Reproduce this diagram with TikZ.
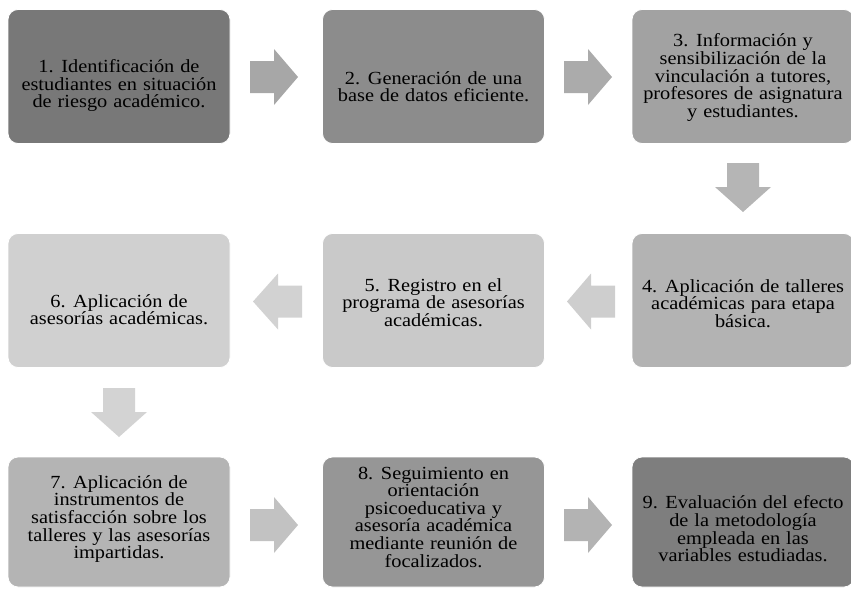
\documentclass[tikz,border=0pt]{standalone}
\usepackage{fontspec}
\setmainfont{Liberation Serif}[FakeStretch=1.1]
\newcommand{\boxfont}{\fontsize{18.5}{17.6}\selectfont\spaceskip=0.32em plus 0.1em\relax}
\begin{document}
\begin{tikzpicture}[x=1pt,y=-1pt,
  stepbox/.style={draw=white, line width=0.8pt, rounded corners=10pt,
    minimum width=222pt, minimum height=134pt, inner sep=0pt},
  steptext/.style={align=center, text=black, font=\boxfont, inner sep=0pt}
]
\useasboundingbox (0,0) rectangle (851,589);
\definecolor{c1}{HTML}{787878}
\definecolor{c2}{HTML}{8C8C8C}
\definecolor{c3}{HTML}{A2A2A2}
\definecolor{c4}{HTML}{B3B3B3}
\definecolor{c5}{HTML}{C9C9C9}
\definecolor{c6}{HTML}{D0D0D0}
\definecolor{c7}{HTML}{B4B4B4}
\definecolor{c8}{HTML}{969696}
\definecolor{c9}{HTML}{7E7E7E}
\definecolor{a1}{HTML}{A7A7A7}
\definecolor{a2}{HTML}{ABABAB}
\definecolor{a3}{HTML}{B5B5B5}
\definecolor{a4}{HTML}{CECECE}
\definecolor{a5}{HTML}{D2D2D2}
\definecolor{a6}{HTML}{D3D3D3}
\definecolor{a7}{HTML}{C2C2C2}
\definecolor{a8}{HTML}{B3B3B3}

% boxes
\node[stepbox, fill=c1] (b1) at (119,76.5) {};
\node[stepbox, fill=c2] (b2) at (433.5,76.5) {};
\node[stepbox, fill=c3] (b3) at (743,76.5) {};
\node[stepbox, fill=c4] (b4) at (743,300.5) {};
\node[stepbox, fill=c5] (b5) at (433.5,300.5) {};
\node[stepbox, fill=c6] (b6) at (119,300.5) {};
\node[stepbox, fill=c7, minimum height=130pt] (b7) at (119,522) {};
\node[stepbox, fill=c8, minimum height=130pt] (b8) at (433.5,522) {};
\node[stepbox, fill=c9, minimum height=130pt] (b9) at (743,522) {};

% texts
\node[steptext] (t1) at ([yshift=-9pt]b1.center) {1. Identificación de\\estudiantes en situación\\de riesgo académico.};
\node[steptext] (t2) at ([yshift=-10pt]b2.center) {2. Generación de una\\base de datos eficiente.};
\node[steptext] (t3) at ([yshift=-1pt]b3.center) {3. Información y\\sensibilización de la\\vinculación a tutores,\\profesores de asignatura\\y estudiantes.};
\node[steptext] (t4) at ([yshift=-3pt]b4.center) {4. Aplicación de talleres\\académicas para etapa\\básica.};
\node[steptext] (t5) at ([yshift=-2pt]b5.center) {5. Registro en el\\programa de asesorías\\académicas.};
\node[steptext] (t6) at ([yshift=-9pt]b6.center) {6. Aplicación de\\asesorías académicas.};
\node[steptext] (t7) at ([yshift=3pt]b7.center) {7. Aplicación de\\instrumentos de\\satisfacción sobre los\\talleres y las asesorías\\impartidas.};
\node[steptext] (t8) at ([yshift=5pt]b8.center) {8. Seguimiento en\\orientación\\psicoeducativa y\\asesoría académica\\mediante reunión de\\focalizados.};
\node[steptext] (t9) at ([yshift=-7pt]b9.center) {9. Evaluación del efecto\\de la metodología\\empleada en las\\variables estudiadas.};

% block arrows between the boxes
\newcommand{\rarrow}[5]{% color, shaft start x, head start x, tip x, centre y
  \fill[#1] (#2,#5-16) -- (#3,#5-16) -- (#3,#5-28) -- (#4,#5) -- (#3,#5+28) -- (#3,#5+16) -- (#2,#5+16) -- cycle;}
\newcommand{\darrow}[5]{% color, shaft start y, head start y, tip y, centre x
  \fill[#1] (#5-16,#2) -- (#5-16,#3) -- (#5-28,#3) -- (#5,#4) -- (#5+28,#3) -- (#5+16,#3) -- (#5+16,#2) -- cycle;}

\rarrow{a1}{250}{274}{298}{77}
\rarrow{a2}{564}{588}{612}{77}
\darrow{a3}{163}{187}{212}{743}
\rarrow{a4}{615}{591}{567}{301.5}
\rarrow{a5}{302}{278}{253}{301.5}
\darrow{a6}{388}{412}{437}{119}
\rarrow{a7}{250}{274}{298}{525}
\rarrow{a8}{564}{588}{612}{525}
\end{tikzpicture}
\end{document}
